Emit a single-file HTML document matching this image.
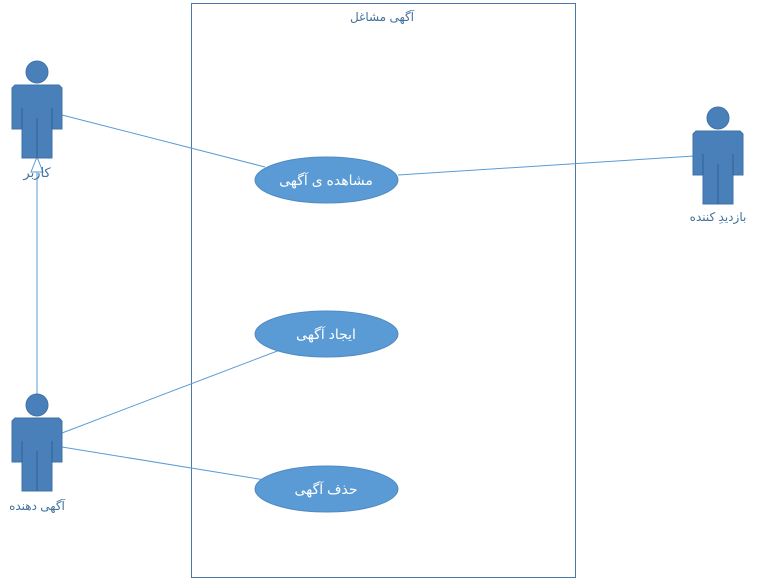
<!DOCTYPE html>
<html><head><meta charset="utf-8"><style>body{margin:0;background:#fff}svg{display:block}text{font-family:"Liberation Sans","DejaVu Sans",sans-serif}</style></head><body>
<svg width="757" height="585" viewBox="0 0 757 585" xmlns="http://www.w3.org/2000/svg">
<defs>
<g id="actor">
<circle cx="0" cy="0" r="11" fill="#4a80b9" stroke="#3f72a8" stroke-width="1"/>
<path d="M-22,13 L22,13 L25,16 L25,57 L15,57 L15,86 L-15,86 L-15,57 L-25,57 L-25,16 Z" fill="#4a80b9" stroke="#3f72a8" stroke-width="1"/>
<path d="M-15,36 L-15,57 M15,36 L15,57 M0,46 L0,86" stroke="#2f5f93" stroke-width="1" fill="none"/>
</g>
</defs>
<rect x="191.5" y="3.5" width="384" height="574" fill="#fff" stroke="#4a78a8" stroke-width="1"/>
<text x="382" y="21" font-size="12" fill="#41719c" text-anchor="middle">آگهی مشاغل</text>
<g stroke="#5b9bd5" stroke-width="1" fill="none">
<line x1="62" y1="115" x2="265" y2="167"/>
<line x1="398" y1="175" x2="694" y2="156"/>
<line x1="62" y1="433" x2="280" y2="350"/>
<line x1="62" y1="447" x2="265" y2="480"/>
<line x1="37" y1="395" x2="37" y2="172"/>
</g>
<polygon points="37,157 31,172 43,172" fill="#fff" stroke="#5b9bd5" stroke-width="1"/>
<use href="#actor" x="37" y="72"/>
<use href="#actor" x="37" y="405"/>
<use href="#actor" x="718" y="118"/>
<text x="37" y="177" font-size="13" fill="#41719c" text-anchor="middle">کاربر</text>
<text x="37" y="510" font-size="12" fill="#41719c" text-anchor="middle">آگهی دهنده</text>
<text x="718" y="221" font-size="12" fill="#41719c" text-anchor="middle">بازدیدِ کننده</text>
<g fill="#5b9bd5" stroke="#4f8ac4" stroke-width="1">
<ellipse cx="326.5" cy="180" rx="71.5" ry="23"/>
<ellipse cx="326.5" cy="334" rx="71.5" ry="23"/>
<ellipse cx="326.5" cy="489" rx="71.5" ry="23"/>
</g>
<g fill="#fff" font-size="14" text-anchor="middle">
<text x="326" y="185">مشاهده ی آگهی</text>
<text x="326" y="339">ایجاد آگهی</text>
<text x="326" y="494">حذف آگهی</text>
</g>
</svg>
</body></html>
